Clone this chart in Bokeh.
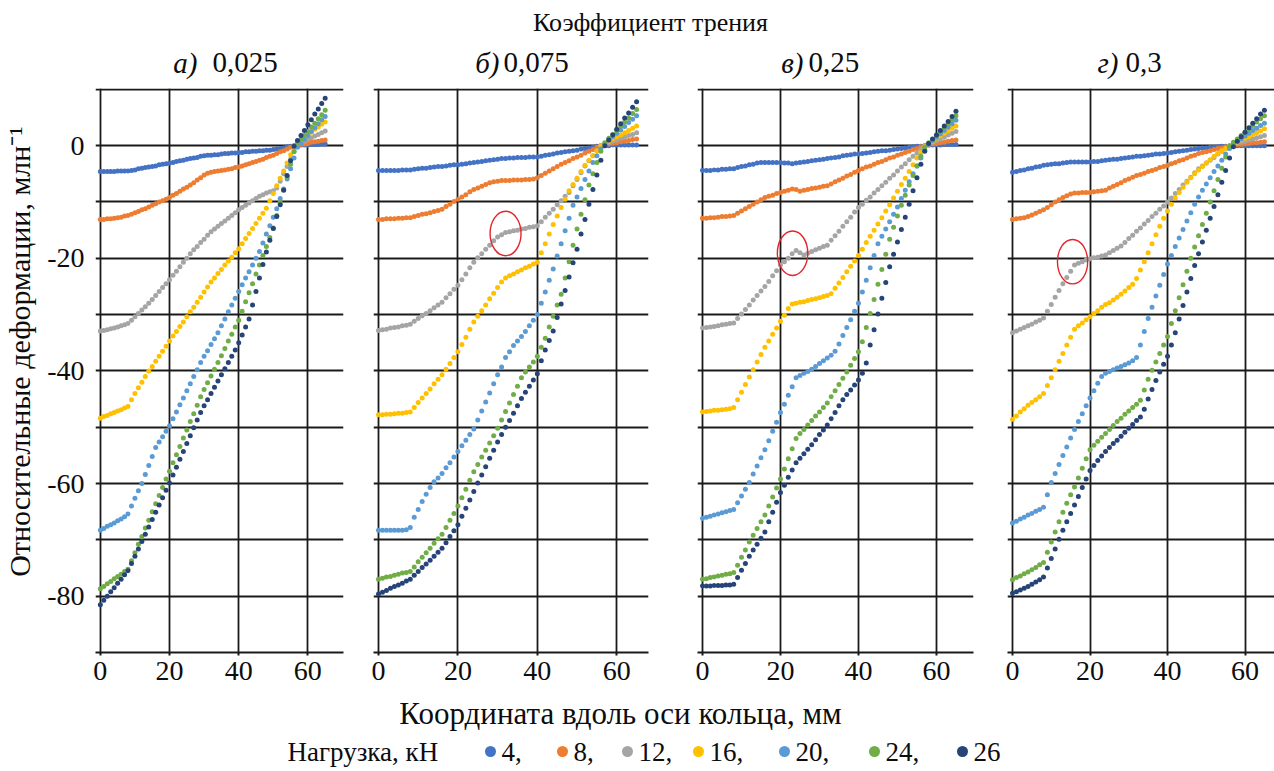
from bokeh.plotting import figure
from bokeh.layouts import column, row
from bokeh.models import Range1d, FixedTicker, Label, ColumnDataSource
from bokeh.embed import file_html
from bokeh.resources import INLINE
from bokeh.core.properties import value

FONT = "Liberation Serif, serif"
TXT = "#0d0d0d"
GRID = "#1a1a1a"

# ---------------- data ----------------
x_mm = list(range(66))  # coordinate along the ring axis, mm
loads_kN = ["4", "8", "12", "16", "20", "24", "26"]
colors = ["#4472C4", "#ED7D31", "#A5A5A5", "#FFC000", "#5B9BD5", "#70AD47", "#264478"]
panel_letters = ["а)", "б)", "в)", "г)"]
friction_coeffs = ["0,025", "0,075", "0,25", "0,3"]
x_ticks = [0, 20, 40, 60]
y_ticks = [-80, -60, -40, -20, 0]

# panel а) friction 0,025
a_4 = [-4.6,-4.6,-4.6,-4.6,-4.6,-4.5,-4.5,-4.5,-4.5,-4.4,-4.3,-4.1,-4.0,-3.9,-3.8,-3.7,-3.6,-3.4,-3.3,-3.2,-3.1,-3.0,-2.8,-2.7,-2.6,-2.4,-2.3,-2.2,-2.1,-1.9,-1.8,-1.7,-1.7,-1.6,-1.6,-1.5,-1.4,-1.4,-1.3,-1.3,-1.2,-1.2,-1.1,-1.1,-1.0,-1.0,-0.9,-0.9,-0.8,-0.8,-0.7,-0.6,-0.5,-0.4,-0.2,-0.1,0.0,0.0,0.1,0.1,0.1,0.2,0.2,0.2,0.3,0.3]
a_8 = [-13.1,-13.1,-13.0,-13.0,-12.9,-12.8,-12.7,-12.5,-12.4,-12.2,-11.9,-11.7,-11.4,-11.2,-10.9,-10.6,-10.3,-10.0,-9.8,-9.5,-9.2,-8.8,-8.5,-8.1,-7.7,-7.4,-7.0,-6.6,-6.1,-5.7,-5.2,-4.9,-4.7,-4.6,-4.5,-4.4,-4.3,-4.2,-4.1,-3.9,-3.8,-3.6,-3.4,-3.2,-3.0,-2.8,-2.6,-2.4,-2.1,-1.9,-1.7,-1.4,-1.1,-0.9,-0.6,-0.3,0.0,0.1,0.2,0.3,0.4,0.6,0.7,0.8,0.9,1.0]
a_12 = [-32.9,-32.8,-32.7,-32.5,-32.4,-32.2,-32.0,-31.8,-31.6,-31.0,-30.4,-29.8,-29.2,-28.6,-28.0,-27.3,-26.6,-25.9,-25.2,-24.5,-23.8,-23.0,-22.3,-21.5,-20.7,-20.0,-19.2,-18.5,-17.9,-17.2,-16.6,-15.9,-15.3,-14.8,-14.3,-13.8,-13.4,-12.9,-12.4,-11.9,-11.4,-11.0,-10.6,-10.2,-9.8,-9.4,-9.0,-8.7,-8.4,-8.2,-8.0,-7.5,-6.3,-5.0,-3.7,-2.4,-1.0,0.2,0.5,0.8,1.1,1.4,1.7,2.0,2.3,2.6]
a_16 = [-48.4,-48.1,-47.9,-47.6,-47.4,-47.1,-46.9,-46.6,-46.3,-45.1,-44.0,-43.0,-42.0,-41.0,-40.0,-39.2,-38.3,-37.4,-36.5,-35.6,-34.7,-33.8,-33.0,-32.1,-31.3,-30.4,-29.5,-28.7,-27.8,-26.9,-26.0,-25.1,-24.2,-23.5,-22.7,-22.0,-21.2,-20.5,-19.8,-19.0,-18.3,-17.4,-16.5,-15.6,-14.7,-13.8,-12.9,-12.0,-11.1,-9.8,-8.5,-7.1,-5.8,-4.5,-3.1,-1.6,-0.1,0.4,0.9,1.4,1.9,2.4,2.9,3.3,3.8,4.2]
a_20 = [-68.3,-68.0,-67.6,-67.3,-67.0,-66.6,-66.3,-65.9,-65.4,-64.0,-62.6,-61.3,-60.0,-58.4,-56.8,-55.2,-53.6,-52.6,-51.7,-50.7,-49.8,-48.5,-47.3,-46.0,-44.8,-43.5,-42.3,-41.0,-39.8,-38.5,-37.4,-36.4,-35.3,-34.3,-33.2,-32.0,-30.8,-29.5,-28.3,-27.1,-25.9,-24.7,-23.5,-22.4,-21.2,-20.0,-18.8,-17.3,-15.7,-14.2,-12.7,-11.2,-9.4,-7.7,-5.9,-4.1,-2.2,-0.3,0.4,1.1,1.8,2.5,3.2,3.9,4.6,5.2]
a_24 = [-78.7,-78.3,-77.8,-77.4,-76.9,-76.5,-76.1,-75.6,-75.2,-73.7,-72.3,-70.8,-69.4,-67.9,-66.5,-65.0,-63.6,-62.1,-60.7,-59.2,-57.8,-56.3,-54.9,-53.4,-51.9,-50.5,-49.0,-47.6,-46.1,-44.6,-43.3,-42.1,-40.9,-39.7,-38.5,-37.3,-36.0,-34.7,-33.5,-32.2,-31.0,-29.4,-27.7,-26.1,-24.5,-22.8,-21.2,-19.5,-17.9,-16.3,-14.6,-12.4,-10.1,-7.8,-5.5,-3.3,-1.1,0.4,1.1,1.8,2.5,3.3,4.0,4.8,5.5,6.3]
a_26 = [-81.5,-80.7,-80.0,-79.2,-78.5,-77.7,-77.0,-76.2,-75.5,-74.2,-72.9,-71.6,-70.3,-69.0,-67.7,-66.4,-65.1,-63.8,-62.5,-61.2,-59.9,-58.5,-57.1,-55.7,-54.3,-52.9,-51.5,-50.1,-48.7,-47.4,-46.2,-45.1,-44.0,-42.9,-41.8,-40.7,-39.6,-38.5,-37.4,-36.3,-35.0,-33.6,-32.2,-30.8,-28.3,-25.9,-23.5,-21.1,-18.9,-16.8,-14.7,-12.6,-10.5,-7.9,-5.3,-2.7,-0.1,0.9,1.8,2.7,3.7,4.6,5.6,6.5,7.5,8.4]

# panel б) friction 0,075
b_4 = [-4.4,-4.4,-4.4,-4.4,-4.4,-4.4,-4.3,-4.3,-4.3,-4.2,-4.1,-4.0,-4.0,-3.9,-3.8,-3.7,-3.7,-3.6,-3.5,-3.4,-3.4,-3.3,-3.2,-3.1,-3.0,-2.9,-2.8,-2.7,-2.6,-2.5,-2.4,-2.3,-2.3,-2.2,-2.2,-2.1,-2.1,-2.1,-2.0,-2.0,-2.0,-1.9,-1.7,-1.6,-1.5,-1.3,-1.2,-1.1,-1.0,-0.9,-0.8,-0.6,-0.5,-0.4,-0.3,-0.1,0.0,0.0,0.0,0.1,0.1,0.1,0.1,0.1,0.1,0.1]
b_8 = [-13.1,-13.1,-13.0,-13.0,-13.0,-12.9,-12.9,-12.8,-12.8,-12.6,-12.4,-12.2,-12.1,-11.9,-11.7,-11.5,-11.3,-10.8,-10.4,-9.9,-9.5,-9.1,-8.7,-8.2,-7.8,-7.5,-7.2,-6.9,-6.6,-6.4,-6.3,-6.2,-6.2,-6.2,-6.1,-6.1,-6.1,-6.0,-6.0,-5.9,-5.7,-5.3,-4.9,-4.5,-4.1,-3.7,-3.3,-3.0,-2.7,-2.3,-2.0,-1.7,-1.3,-1.0,-0.7,-0.3,0.0,0.1,0.3,0.4,0.5,0.7,0.8,0.9,1.1,1.2]
b_12 = [-32.8,-32.7,-32.6,-32.4,-32.3,-32.2,-32.0,-31.9,-31.7,-31.2,-30.7,-30.2,-29.8,-29.3,-28.8,-28.3,-27.8,-27.0,-26.3,-25.5,-24.8,-23.8,-22.8,-21.7,-20.7,-19.9,-19.2,-18.4,-17.7,-16.9,-16.2,-15.8,-15.4,-15.3,-15.1,-15.0,-14.8,-14.7,-14.5,-14.4,-14.2,-13.5,-12.7,-12.0,-11.3,-10.5,-9.8,-9.0,-8.3,-7.1,-6.0,-4.8,-3.6,-2.7,-1.8,-0.9,0.0,0.3,0.5,0.8,1.0,1.3,1.5,1.8,2.0,2.3]
b_16 = [-47.8,-47.8,-47.7,-47.7,-47.6,-47.5,-47.5,-47.4,-47.3,-46.5,-45.6,-44.8,-44.0,-43.2,-42.3,-41.5,-40.7,-39.7,-38.7,-37.6,-36.6,-35.3,-34.0,-32.6,-31.3,-30.3,-29.3,-28.3,-27.2,-26.2,-25.2,-24.2,-23.5,-23.1,-22.8,-22.4,-22.1,-21.7,-21.4,-21.0,-20.7,-19.0,-17.4,-15.7,-14.0,-12.5,-11.0,-9.5,-8.0,-6.9,-5.8,-4.6,-3.5,-2.6,-1.8,-0.9,0.0,0.4,0.8,1.2,1.6,1.9,2.3,2.7,3.1,3.5]
b_20 = [-68.3,-68.3,-68.3,-68.3,-68.3,-68.3,-68.3,-68.2,-67.8,-66.0,-64.6,-63.2,-61.9,-60.7,-59.7,-59.0,-58.2,-57.2,-56.3,-55.3,-54.3,-53.3,-52.3,-51.3,-50.3,-48.7,-47.1,-45.5,-43.9,-42.3,-40.7,-39.3,-37.6,-36.6,-35.5,-34.7,-33.9,-33.0,-32.0,-31.0,-30.0,-28.0,-26.0,-23.9,-21.9,-19.6,-17.4,-15.1,-12.9,-10.6,-9.1,-7.6,-6.0,-4.5,-3.0,-1.8,-0.6,0.3,1.0,1.6,2.2,2.8,3.4,4.1,4.7,5.3]
b_24 = [-77.0,-76.8,-76.6,-76.5,-76.3,-76.1,-75.9,-75.8,-75.6,-74.8,-73.9,-73.1,-72.3,-71.5,-70.6,-69.8,-69.0,-67.8,-66.5,-65.3,-64.0,-62.5,-61.0,-59.4,-57.9,-56.6,-55.3,-54.1,-52.8,-51.5,-50.2,-48.7,-47.2,-45.7,-44.2,-42.7,-41.2,-40.2,-39.3,-38.4,-37.4,-35.8,-34.2,-32.2,-30.3,-28.3,-26.4,-23.5,-20.6,-17.7,-14.8,-12.2,-9.6,-7.0,-5.0,-3.0,-1.0,0.5,1.3,2.0,2.7,3.5,4.2,4.9,5.7,6.4]
b_26 = [-79.6,-79.3,-79.0,-78.6,-78.3,-78.0,-77.7,-77.3,-77.0,-76.3,-75.6,-74.9,-74.3,-73.6,-72.9,-72.2,-71.5,-70.5,-69.4,-68.4,-67.3,-65.8,-64.4,-62.9,-61.4,-59.9,-58.5,-57.0,-55.5,-54.1,-52.6,-51.3,-50.0,-48.8,-47.5,-46.2,-44.9,-43.8,-42.7,-41.6,-40.5,-38.2,-36.3,-34.6,-32.9,-30.5,-28.1,-25.7,-23.3,-20.8,-18.4,-15.7,-13.1,-10.4,-7.8,-5.2,-2.6,0.0,1.0,1.9,2.9,3.9,4.9,5.8,6.8,7.8]

# panel в) friction 0,25
c_4 = [-4.4,-4.4,-4.4,-4.3,-4.3,-4.2,-4.2,-4.1,-4.1,-3.9,-3.7,-3.6,-3.4,-3.3,-3.1,-3.0,-3.0,-3.0,-3.0,-3.0,-3.0,-3.1,-3.1,-3.2,-3.1,-3.0,-2.9,-2.8,-2.7,-2.6,-2.5,-2.4,-2.3,-2.2,-2.1,-2.0,-1.8,-1.7,-1.6,-1.5,-1.5,-1.4,-1.3,-1.2,-1.1,-1.0,-0.9,-0.9,-0.8,-0.7,-0.6,-0.5,-0.4,-0.3,-0.2,-0.1,-0.1,0.0,0.1,0.1,0.1,0.1,0.2,0.2,0.2,0.2]
c_8 = [-12.9,-12.9,-12.8,-12.8,-12.7,-12.6,-12.6,-12.5,-12.4,-12.0,-11.6,-11.2,-10.8,-10.4,-10.0,-9.6,-9.2,-9.0,-8.8,-8.5,-8.3,-8.1,-7.9,-7.7,-7.8,-8.1,-7.9,-7.8,-7.6,-7.5,-7.4,-7.2,-7.1,-6.8,-6.4,-6.1,-5.8,-5.4,-5.1,-4.7,-4.4,-4.1,-3.8,-3.6,-3.3,-3.0,-2.8,-2.5,-2.2,-2.0,-1.7,-1.5,-1.2,-1.0,-0.7,-0.5,-0.2,0.0,0.1,0.3,0.4,0.5,0.6,0.8,0.9,1.0]
c_12 = [-32.4,-32.3,-32.2,-32.1,-32.0,-31.8,-31.7,-31.6,-31.5,-30.7,-29.9,-29.1,-28.3,-27.4,-26.6,-25.8,-25.0,-24.1,-23.1,-22.2,-21.2,-20.6,-20.0,-19.2,-18.6,-19.0,-19.4,-19.1,-18.8,-18.5,-18.2,-17.9,-17.7,-16.8,-16.0,-15.2,-14.3,-13.5,-12.7,-11.8,-11.0,-10.4,-9.7,-9.1,-8.4,-7.8,-7.1,-6.5,-5.8,-5.2,-4.5,-3.8,-3.2,-2.5,-1.9,-1.3,-0.6,0.0,0.3,0.6,0.9,1.2,1.5,1.9,2.2,2.5]
c_16 = [-47.3,-47.2,-47.1,-47.0,-47.0,-46.9,-46.8,-46.7,-46.5,-45.1,-43.8,-42.4,-41.1,-39.8,-38.4,-37.1,-35.8,-34.7,-33.5,-32.4,-31.2,-30.1,-28.9,-28.1,-28.0,-27.8,-27.7,-27.5,-27.3,-27.2,-27.0,-26.8,-26.6,-26.3,-25.3,-24.4,-23.4,-22.4,-21.4,-20.5,-19.5,-18.4,-17.2,-16.1,-15.0,-13.9,-12.8,-11.6,-10.5,-9.3,-8.1,-6.9,-5.8,-4.6,-3.4,-2.2,-1.2,-0.2,0.4,0.8,1.3,1.7,2.2,2.6,3.1,3.5]
c_20 = [-66.2,-66.0,-65.8,-65.6,-65.4,-65.2,-65.0,-64.8,-64.6,-63.4,-62.2,-61.0,-59.8,-58.3,-56.9,-55.4,-54.0,-52.4,-50.7,-49.1,-47.4,-45.9,-44.3,-42.8,-41.2,-40.8,-40.4,-40.1,-39.7,-39.2,-38.7,-38.2,-37.7,-37.2,-36.5,-35.2,-33.7,-32.3,-30.9,-29.4,-28.0,-26.0,-23.9,-21.7,-19.5,-17.4,-16.1,-14.8,-13.5,-12.2,-10.9,-9.4,-7.9,-6.4,-5.0,-3.6,-2.2,-0.8,0.2,0.9,1.5,2.1,2.7,3.3,3.9,4.5]
c_24 = [-77.0,-76.9,-76.7,-76.6,-76.4,-76.3,-76.1,-76.0,-75.8,-74.5,-73.1,-71.8,-70.4,-69.2,-68.0,-66.8,-65.6,-64.0,-62.4,-60.8,-59.2,-57.4,-55.6,-53.8,-52.0,-51.1,-50.4,-49.6,-48.8,-48.0,-47.3,-46.5,-45.7,-44.6,-43.5,-42.4,-41.3,-40.2,-39.0,-37.8,-36.6,-34.8,-32.3,-29.8,-27.3,-24.6,-22.0,-19.3,-16.6,-14.5,-12.5,-10.6,-8.8,-7.0,-5.3,-3.6,-1.9,-0.3,0.5,1.1,1.8,2.5,3.2,3.9,4.6,5.3]
c_26 = [-78.2,-78.2,-78.2,-78.1,-78.1,-78.1,-78.0,-78.0,-77.9,-76.7,-75.4,-74.2,-72.9,-71.8,-70.8,-69.7,-68.6,-66.8,-65.1,-63.3,-61.6,-60.3,-58.9,-57.6,-56.3,-55.5,-54.7,-53.9,-53.1,-52.2,-51.3,-50.5,-49.6,-48.5,-47.4,-46.2,-45.1,-44.2,-43.4,-42.5,-41.6,-40.4,-38.6,-35.4,-32.7,-29.9,-27.1,-24.3,-21.5,-19.3,-17.1,-14.9,-12.7,-10.4,-8.0,-5.7,-3.3,-1.0,0.4,1.2,1.9,2.7,3.5,4.3,5.2,6.1]

# panel г) friction 0,3
d_4 = [-4.7,-4.6,-4.4,-4.3,-4.1,-4.0,-3.8,-3.7,-3.5,-3.4,-3.3,-3.2,-3.2,-3.1,-3.0,-2.9,-2.9,-2.9,-2.9,-2.9,-2.9,-2.8,-2.8,-2.7,-2.6,-2.5,-2.4,-2.4,-2.3,-2.2,-2.1,-2.0,-1.9,-1.9,-1.8,-1.7,-1.6,-1.5,-1.5,-1.4,-1.3,-1.2,-1.1,-1.0,-0.9,-0.8,-0.7,-0.6,-0.5,-0.4,-0.4,-0.3,-0.3,-0.2,-0.1,-0.1,0.0,0.0,0.0,0.0,0.0,0.0,0.0,0.0,0.0,0.0]
d_8 = [-13.1,-13.0,-12.9,-12.8,-12.6,-12.3,-12.0,-11.7,-11.4,-11.0,-10.5,-10.0,-9.6,-9.2,-8.9,-8.6,-8.4,-8.4,-8.3,-8.3,-8.3,-8.2,-8.1,-8.0,-7.9,-7.5,-7.2,-6.9,-6.6,-6.2,-5.9,-5.6,-5.3,-5.1,-4.9,-4.6,-4.4,-4.2,-3.9,-3.7,-3.5,-3.2,-3.0,-2.7,-2.5,-2.2,-1.9,-1.7,-1.4,-1.2,-1.1,-0.9,-0.7,-0.5,-0.4,-0.2,0.0,0.1,0.2,0.2,0.3,0.4,0.5,0.5,0.6,0.7]
d_12 = [-33.2,-32.9,-32.6,-32.3,-32.0,-31.7,-31.3,-31.0,-30.6,-29.4,-28.2,-26.9,-25.7,-24.5,-23.4,-22.3,-21.2,-20.9,-20.6,-20.3,-20.1,-19.9,-19.8,-19.6,-19.4,-19.0,-18.6,-18.2,-17.8,-17.2,-16.5,-15.9,-15.2,-14.6,-13.9,-13.3,-12.6,-12.0,-11.3,-10.7,-10.0,-9.3,-8.5,-7.8,-7.0,-6.3,-5.6,-4.8,-4.1,-3.6,-3.1,-2.6,-2.1,-1.5,-1.0,-0.5,0.0,0.2,0.4,0.6,0.8,1.0,1.2,1.4,1.6,1.8]
d_16 = [-48.6,-48.0,-47.3,-46.7,-46.1,-45.6,-45.1,-44.6,-44.0,-42.6,-41.2,-39.8,-38.3,-36.9,-35.4,-34.0,-32.6,-32.0,-31.5,-30.9,-30.4,-29.8,-29.3,-28.7,-28.2,-27.9,-27.4,-26.9,-26.4,-25.8,-25.2,-24.6,-23.6,-22.1,-20.6,-19.0,-17.4,-15.8,-14.3,-12.9,-11.6,-10.4,-9.3,-8.3,-7.4,-6.5,-5.7,-5.0,-4.3,-3.7,-3.1,-2.5,-1.9,-1.4,-0.9,-0.5,0.0,0.3,0.6,1.0,1.3,1.6,2.0,2.3,2.6,3.0]
d_20 = [-67.0,-66.7,-66.3,-66.0,-65.6,-65.3,-64.9,-64.6,-64.2,-62.0,-59.8,-58.2,-56.6,-55.0,-53.5,-51.9,-50.4,-49.0,-47.6,-46.2,-44.8,-43.5,-42.2,-41.0,-40.4,-40.1,-39.8,-39.5,-39.2,-38.9,-38.6,-38.2,-37.6,-35.4,-33.0,-30.7,-28.7,-26.7,-24.8,-22.9,-21.0,-19.5,-17.9,-16.4,-14.9,-13.4,-11.9,-10.4,-9.1,-7.9,-6.8,-5.7,-4.6,-3.6,-2.6,-1.5,-0.5,0.3,0.8,1.2,1.7,2.2,2.7,3.1,3.6,4.0]
d_24 = [-77.1,-76.7,-76.4,-76.0,-75.7,-75.3,-74.9,-74.4,-74.0,-72.2,-70.4,-68.6,-66.8,-65.1,-63.5,-62.0,-60.6,-59.0,-57.3,-55.6,-54.0,-53.2,-52.5,-51.8,-51.1,-50.4,-49.7,-49.0,-48.4,-47.7,-47.1,-46.5,-45.9,-45.2,-43.4,-41.5,-39.9,-38.4,-36.9,-35.4,-33.9,-31.6,-29.3,-27.0,-24.7,-22.3,-20.0,-18.0,-16.0,-14.0,-12.0,-10.0,-8.0,-6.0,-4.0,-2.0,-0.1,0.6,1.2,1.8,2.4,3.0,3.6,4.2,4.8,5.3]
d_26 = [-79.5,-79.2,-78.9,-78.6,-78.3,-77.9,-77.5,-77.1,-76.6,-75.0,-73.3,-71.6,-69.9,-68.3,-66.8,-65.3,-63.8,-62.3,-60.7,-59.2,-57.7,-56.8,-55.9,-55.1,-54.3,-53.6,-52.9,-52.3,-51.6,-50.9,-50.2,-49.5,-48.8,-48.2,-46.8,-45.0,-43.3,-41.7,-40.2,-38.8,-37.4,-35.4,-33.2,-30.8,-28.4,-26.0,-23.6,-21.3,-19.2,-17.1,-15.0,-12.9,-10.8,-8.7,-6.5,-4.4,-2.2,-0.2,0.8,1.6,2.4,3.2,4.0,4.8,5.6,6.3]

panel_series = [
    [a_4, a_8, a_12, a_16, a_20, a_24, a_26],
    [b_4, b_8, b_12, b_16, b_20, b_24, b_26],
    [c_4, c_8, c_12, c_16, c_20, c_24, c_26],
    [d_4, d_8, d_12, d_16, d_20, d_24, d_26],
]

# highlighted kinks (red ellipses), data coordinates
mark_x = [None, 32.0, 23.1, 15.5]
mark_y = [None, -15.6, -19.1, -20.6]

# ---------------- layout ----------------
TOP_H = 82
PANEL_H = 612
BOT_H = 77
panel_geom = [
    dict(width=358, bl=92, br=15, xr=(-1.4, 70.3)),
    dict(width=314, bl=15, br=24, xr=(-1.26, 68.0)),
    dict(width=318, bl=25, br=17, xr=(-1.28, 69.5)),
    dict(width=284, bl=17, br=0, xr=(-1.29, 67.6)),
]
TOTAL_W = sum(g["width"] for g in panel_geom)
# panel titles: right edge of the italic letter / left edge of the value (px)
title_letter_right = [197, 499, 803, 1118]
title_value_left = [212, 503, 808, 1125]
legend_key_px = [490, 562, 627, 698, 784, 874, 962]


def make_panel(i):
    g = panel_geom[i]
    p = figure(width=g["width"], height=PANEL_H,
               x_range=Range1d(*g["xr"]), y_range=Range1d(-90, 10.15),
               output_backend="svg", toolbar_location=None,
               min_border_left=g["bl"], min_border_right=g["br"],
               min_border_top=6, min_border_bottom=42)
    p.outline_line_color = None
    p.background_fill_color = "white"
    p.border_fill_color = "white"

    p.xaxis.ticker = FixedTicker(ticks=x_ticks)
    p.xgrid.ticker = FixedTicker(ticks=x_ticks)
    p.ygrid.ticker = FixedTicker(ticks=list(range(-80, 11, 10)))
    p.xgrid.grid_line_color = GRID
    p.ygrid.grid_line_color = GRID
    p.xgrid.grid_line_width = 1.8
    p.ygrid.grid_line_width = 1.8

    xa = p.xaxis[0]
    xa.axis_line_color = GRID
    xa.axis_line_width = 2
    xa.major_tick_line_color = GRID
    xa.major_tick_line_width = 2
    xa.major_tick_out = 3
    xa.major_tick_in = 0
    xa.minor_tick_line_color = None
    xa.major_label_text_font = FONT
    xa.major_label_text_font_size = "28px"
    xa.major_label_text_color = TXT
    xa.major_label_standoff = 6

    if i == 0:
        ya = p.yaxis[0]
        ya.ticker = FixedTicker(ticks=y_ticks)
        ya.major_label_overrides = {t: str(t) for t in y_ticks}
        ya.axis_line_color = None
        ya.major_tick_line_color = None
        ya.minor_tick_line_color = None
        ya.major_label_text_font = FONT
        ya.major_label_text_font_size = "28px"
        ya.major_label_text_color = TXT
        ya.major_label_standoff = 5
        ya.axis_label = "\u00a0" * 5 + "Относительные деформации, млн⁻¹"
        ya.axis_label_text_font = FONT
        ya.axis_label_text_font_size = "30px"
        ya.axis_label_text_font_style = "normal"
        ya.axis_label_text_color = TXT
        ya.axis_label_standoff = 8
    else:
        p.yaxis.visible = False

    for k, ys in enumerate(panel_series[i]):
        src = ColumnDataSource(dict(x=x_mm[:len(ys)], y=ys))
        p.scatter("x", "y", source=src, size=5, fill_color=colors[k], line_color=None)

    if mark_x[i] is not None:
        p.ellipse(x=[mark_x[i]], y=[mark_y[i]], width=7.8, height=7.9,
                  fill_color=None, line_color="#e3242b", line_width=1.4)
    return p


panels = [make_panel(i) for i in range(4)]

# top strip: common title and panel titles
top = figure(width=TOTAL_W, height=TOP_H, x_range=Range1d(0, TOTAL_W), y_range=Range1d(0, TOP_H),
             x_axis_type=None, y_axis_type=None, output_backend="svg",
             toolbar_location=None, min_border=0)
top.outline_line_color = None
top.add_layout(Label(x=650, y=TOP_H - 22, text="Коэффициент трения", text_align="center",
                     text_baseline="middle", text_font=FONT, text_font_size="26px",
                     text_color=TXT))
for i in range(4):
    top.add_layout(Label(x=title_letter_right[i], y=TOP_H - 62, text=panel_letters[i],
                         text_font=FONT, text_font_style="italic", text_font_size="29px",
                         text_align="right", text_baseline="middle", text_color=TXT))
    top.add_layout(Label(x=title_value_left[i], y=TOP_H - 62, text=friction_coeffs[i],
                         text_font=FONT, text_font_size="29px",
                         text_align="left", text_baseline="middle", text_color=TXT))

# bottom strip: x-axis title and legend
LEG_Y = 20
bot = figure(width=TOTAL_W, height=BOT_H, x_range=Range1d(0, TOTAL_W), y_range=Range1d(0, BOT_H),
             x_axis_type=None, y_axis_type=None, output_backend="svg",
             toolbar_location=None, min_border=0)
bot.outline_line_color = None
bot.add_layout(Label(x=620, y=BOT_H - 19, text="Координата вдоль оси кольца, мм", text_align="center",
                     text_baseline="middle", text_font=FONT, text_font_size="31px",
                     text_color=TXT))
bot.add_layout(Label(x=287, y=LEG_Y, text="Нагрузка, кН", text_align="left",
                     text_baseline="middle", text_font=FONT, text_font_size="27px",
                     text_color=TXT))
legend_labels = [l + "," for l in loads_kN[:-1]] + [loads_kN[-1]]
bot.scatter(x=legend_key_px, y=[LEG_Y] * len(legend_key_px), size=11,
            fill_color=colors, line_color=None)
bot.text(x=[v + 11 for v in legend_key_px], y=[LEG_Y] * len(legend_key_px), text=legend_labels,
         text_font=value(FONT), text_font_size=value("27px"), text_color=TXT,
         text_baseline="middle", text_align="left")

layout = column(top, row(*panels), bot)
open("out.html", "w").write(file_html(layout, INLINE))
